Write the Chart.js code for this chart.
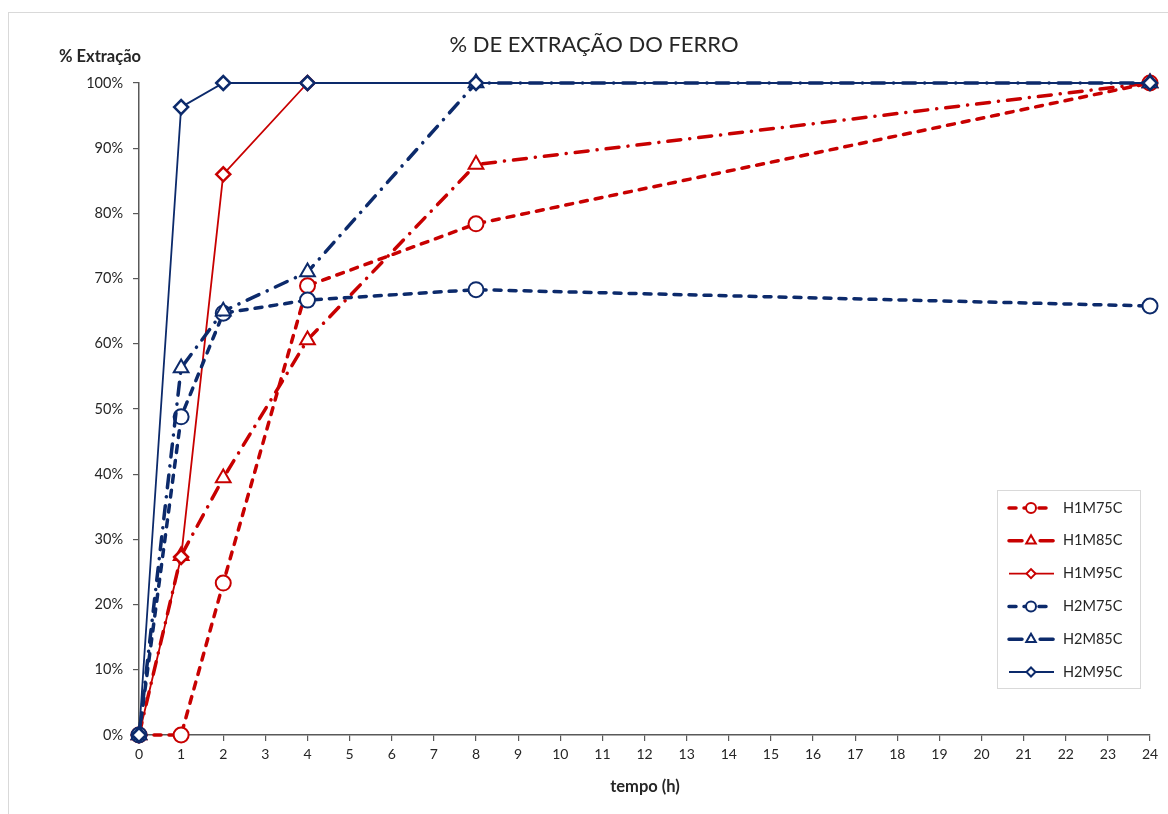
<!DOCTYPE html>
<html>
<head>
<meta charset="utf-8">
<script src="https://cdn.jsdelivr.net/npm/chart.js@4"></script>
<style>
  html, body { margin: 0; padding: 0; background: #fff; }
  #wrap { position: relative; width: 1168px; height: 814px; overflow: hidden; }
  #frame { position: absolute; left: 8px; top: 12px; width: 1200px; height: 900px;
           border-top: 1px solid #d9d9d9; border-left: 1px solid #d9d9d9; }
  canvas { position: absolute; left: 0; top: 0; }
</style>
</head>
<body>
<div id="wrap">
  <div id="frame"></div>
  <canvas id="c" width="1168" height="814"></canvas>
</div>
<script>
// Tempo de extração (h) e % de ferro extraído por ensaio
const hours = [0, 1, 2, 4, 8, 24];
const hoursH1M95C = [0, 1, 2, 4];

const h1m75c = [0, 0, 23.3, 68.9, 78.4, 100];
const h1m85c = [0, 27.5, 39.4, 60.6, 87.5, 100];
const h1m95c = [0, 27.3, 86.0, 100];
const h2m75c = [0, 48.8, 64.7, 66.7, 68.3, 65.8];
const h2m85c = [0, 56.3, 65.0, 71.0, 100, 100];
const h2m95c = [0, 96.3, 100, 100, 100, 100];

const seriesNames = ['H1M75C', 'H1M85C', 'H1M95C', 'H2M75C', 'H2M85C', 'H2M95C'];
const chartTitle = '% DE EXTRAÇÃO DO FERRO';
const yTitle = '% Extração';
const xTitle = 'tempo (h)';

const RED = '#c80000';
const BLUE = '#0c2a6b';
const FONT = 'Lato, "Open Sans", sans-serif';

const pts = (xs, ys) => xs.map((x, i) => ({ x: x, y: ys[i] }));

const DASH = [7, 8];
const DASHDOT = [13, 9, 0.1, 9];

function ds(idx, label, data, color, style, marker) {
  const thick = style !== 'solid';
  return {
    label: label,
    data: data,
    order: 10 - idx,
    borderColor: color,
    backgroundColor: '#ffffff',
    borderWidth: thick ? 3.5 : 1.8,
    borderDash: style === 'dash' ? DASH : style === 'dashdot' ? DASHDOT : [],
    borderCapStyle: thick ? 'round' : 'butt',
    tension: 0,
    pointStyle: marker,
    pointRadius: marker === 'circle' ? 7.5 : marker === 'triangle' ? 8.5 : 7,
    pointBorderWidth: marker === 'rectRot' ? 2.5 : 2,
    pointBackgroundColor: '#ffffff',
    pointBorderColor: color,
    pointHoverRadius: 7,
    clip: false,
    legendRadius: marker === 'circle' ? 5 : marker === 'triangle' ? 5.5 : 4.5
  };
}

const datasets = [
  ds(0, seriesNames[0], pts(hours, h1m75c), RED, 'dash', 'circle'),
  ds(1, seriesNames[1], pts(hours, h1m85c), RED, 'dashdot', 'triangle'),
  ds(2, seriesNames[2], pts(hoursH1M95C, h1m95c), RED, 'solid', 'rectRot'),
  ds(3, seriesNames[3], pts(hours, h2m75c), BLUE, 'dash', 'circle'),
  ds(4, seriesNames[4], pts(hours, h2m85c), BLUE, 'dashdot', 'triangle'),
  ds(5, seriesNames[5], pts(hours, h2m95c), BLUE, 'solid', 'rectRot')
];

// Títulos do gráfico e dos eixos
const titlesPlugin = {
  id: 'titles',
  afterDraw(chart) {
    const ctx = chart.ctx;
    const area = chart.chartArea;
    ctx.save();
    ctx.fillStyle = '#262626';
    ctx.textBaseline = 'middle';
    ctx.textAlign = 'center';
    ctx.font = '22px ' + FONT;
    ctx.fillText(chartTitle, 594, 45);
    ctx.font = 'bold 16.5px ' + FONT;
    ctx.fillText(yTitle, 100, 57);
    ctx.fillText(xTitle, 645, 787);
    ctx.restore();
  }
};

// Legenda em caixa, com amostra de linha e marcador
const legendBoxPlugin = {
  id: 'legendBox',
  afterDraw(chart) {
    const ctx = chart.ctx;
    const bx = 997, by = 490, bw = 143, bh = 198;
    const items = chart.data.datasets.slice().sort((a, b) => b.order - a.order);
    ctx.save();
    ctx.fillStyle = '#ffffff';
    ctx.fillRect(bx, by, bw, bh);
    ctx.strokeStyle = '#d9d9d9';
    ctx.lineWidth = 1;
    ctx.strokeRect(bx + 0.5, by + 0.5, bw, bh);
    items.forEach((d, i) => {
      const y = 508 + i * 32.8;
      ctx.save();
      ctx.strokeStyle = d.borderColor;
      ctx.lineWidth = d.borderWidth;
      ctx.lineCap = d.borderCapStyle;
      ctx.setLineDash(d.borderDash);
      ctx.beginPath();
      ctx.moveTo(1009, y);
      ctx.lineTo(1054, y);
      ctx.stroke();
      ctx.restore();
      ctx.save();
      ctx.fillStyle = '#ffffff';
      ctx.strokeStyle = d.pointBorderColor;
      ctx.lineWidth = 2;
      Chart.helpers.drawPoint(ctx, { pointStyle: d.pointStyle, radius: d.legendRadius, borderWidth: 2, rotation: 0 }, 1031, y);
      ctx.restore();
      ctx.fillStyle = '#262626';
      ctx.font = '14.5px ' + FONT;
      ctx.textAlign = 'left';
      ctx.textBaseline = 'middle';
      ctx.fillText(d.label, 1063, y);
    });
    ctx.restore();
  }
};

new Chart(document.getElementById('c'), {
  type: 'line',
  data: { datasets: datasets },
  plugins: [titlesPlugin, legendBoxPlugin],
  options: {
    responsive: false,
    animation: false,
    layout: { padding: { left: 0, right: 18, top: 83, bottom: 0 } },
    plugins: { legend: { display: false }, title: { display: false }, tooltip: { enabled: false } },
    scales: {
      x: {
        type: 'linear',
        min: 0, max: 24,
        ticks: { stepSize: 1, color: '#262626', font: { family: FONT, size: 14 }, padding: 5, maxRotation: 0, autoSkip: false },
        grid: { drawOnChartArea: false, drawTicks: true, tickLength: 6, color: '#595959', lineWidth: 1.2 },
        border: { display: true, color: '#595959', width: 1.5 },
        afterFit(scale) { scale.height = 79; }
      },
      y: {
        min: 0, max: 100,
        ticks: { stepSize: 10, color: '#262626', font: { family: FONT, size: 14.5 }, padding: 10,
                 callback: v => v + '%' },
        grid: { drawOnChartArea: false, drawTicks: true, tickLength: 6, color: '#595959', lineWidth: 1.2 },
        border: { display: true, color: '#595959', width: 1.5 },
        afterFit(scale) { scale.width = 139; }
      }
    }
  }
});
</script>
</body>
</html>
